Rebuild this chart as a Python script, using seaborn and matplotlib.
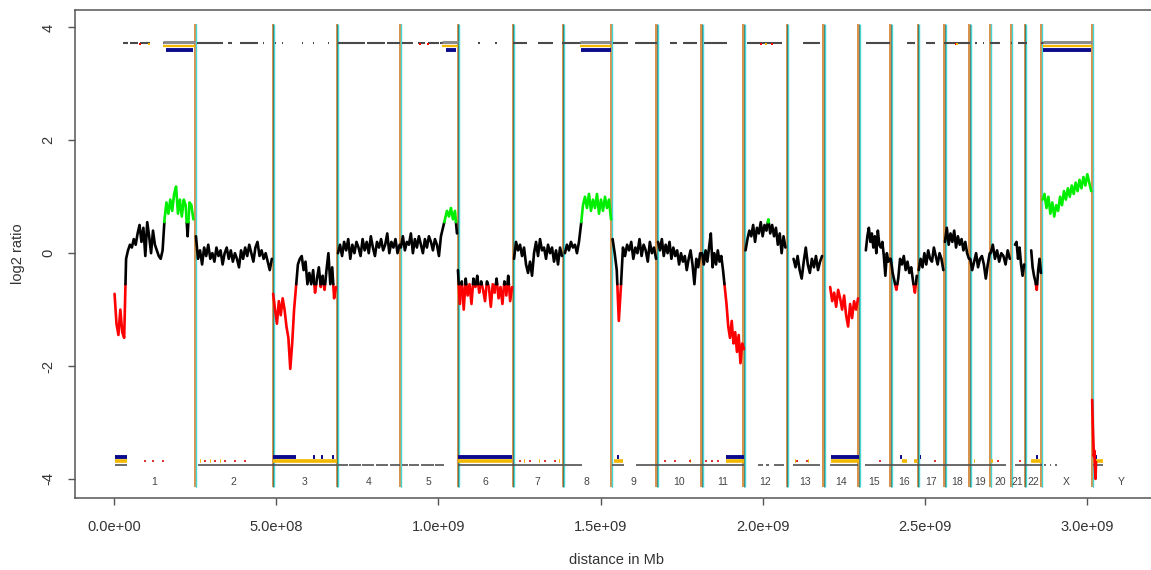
import numpy as np
import pandas as pd
import matplotlib
matplotlib.use("Agg")
import matplotlib.pyplot as plt
import seaborn as sns

sns.set_style("white")
plt.rcParams["font.family"] = ["Liberation Sans", "DejaVu Sans"]
plt.rcParams["axes.unicode_minus"] = False

# chromosome names and boundaries (Mb), last value = end used for the Y label
chrom_names = [str(i) for i in range(1, 23)] + ["X", "Y"]
chrom_bounds = [0, 249, 488.6, 686, 881, 1059, 1229, 1383, 1532, 1671, 1810, 1940,
                2074, 2187, 2295, 2393, 2478, 2560, 2637, 2701, 2765, 2808, 2858, 3015, 3195]

# span of the probes in each chromosome (Mb)
data_start = [1, 252, 490, 690, 884, 1060, 1233, 1390, 1537, 1677, 1813, 1947,
              2095, 2208, 2318, 2395, 2481, 2562, 2640, 2703, 2778, 2828, 2863, 3016]
data_end = [244, 486, 684, 880, 1057, 1227, 1381, 1532, 1671, 1807, 1942, 2070,
            2183, 2294, 2392, 2475, 2557, 2636, 2700, 2762, 2806, 2858, 3013, 3028]

# log2 ratios read along each chromosome
log2_ratio = [
    [-0.72, -1.25, -1.45, -1.0, -1.4, -1.5, -0.1, 0.05, 0.15, 0.1, 0.25, 0.15, 0.35, 0.5,
     0.2, 0.45, -0.05, 0.55, 0.3, 0.0, 0.4, 0.15, 0.05, -0.05, -0.1, 0.05, 0.6, 0.9, 0.7,
     0.95, 0.75, 1.05, 1.18, 0.7, 0.95, 0.65, 0.95, 0.85, 0.3, 0.9, 0.85, 0.6],
    [0.3, -0.1, 0.05, -0.2, 0.1, -0.05, 0.15, -0.1, 0.0, -0.15, 0.1, -0.05, 0.05, -0.2,
     0.0, 0.1, -0.1, 0.05, -0.15, 0.0, -0.1, -0.25, 0.05, -0.1, 0.1, -0.05, 0.15, 0.0,
     -0.15, 0.1, 0.2, -0.05, 0.05, -0.1, 0.0, -0.15, -0.3, -0.1],
    [-0.72, -1.0, -1.25, -0.85, -1.1, -0.8, -1.0, -1.3, -1.5, -2.05, -1.6, -1.0, -0.6,
     -0.2, -0.1, -0.05, -0.3, -0.15, -0.55, -0.35, -0.55, -0.3, -0.7, -0.45, -0.25, -0.6,
     -0.4, -0.65, -0.3, 0.0, -0.55, -0.25, -0.8, -0.6],
    [0.0, 0.15, -0.05, 0.2, 0.05, 0.25, -0.1, 0.15, 0.0, 0.2, 0.1, -0.05, 0.25, 0.05, 0.2,
     0.0, 0.3, 0.1, -0.05, 0.2, 0.1, 0.25, 0.05, 0.15, 0.35, 0.0, 0.2, 0.1, 0.25, 0.0, 0.15],
    [0.1, 0.3, 0.05, 0.2, 0.15, 0.35, 0.0, 0.25, 0.1, 0.3, 0.15, 0.0, 0.25, 0.1, 0.3, 0.2,
     0.05, 0.25, 0.15, -0.05, 0.3, 0.45, 0.6, 0.75, 0.65, 0.8, 0.6, 0.75, 0.35],
    [-0.3, -0.9, -0.5, -1.0, -0.45, -0.75, -0.55, -0.9, -0.45, -0.6, -0.4, -0.7, -0.5,
     -0.65, -0.85, -0.5, -0.6, -0.95, -0.55, -0.7, -0.45, -0.8, -0.6, -0.9, -0.5, -0.75,
     -0.4, -0.85, -0.6],
    [-0.1, 0.2, 0.05, 0.15, -0.05, 0.1, -0.2, -0.35, -0.15, -0.4, 0.0, 0.2, -0.05, 0.25,
     0.05, 0.1, -0.1, 0.15, 0.0, 0.1, -0.15, 0.05, -0.2, 0.1, -0.05],
    [0.0, 0.15, 0.05, 0.2, 0.1, 0.15, 0.0, 0.2, 0.5, 0.85, 1.0, 0.8, 1.05, 0.75, 0.95, 0.8,
     1.05, 0.7, 0.95, 0.75, 1.0, 0.8, 0.95, 0.6],
    [0.25, 0.0, -0.3, -1.2, -0.6, 0.1, -0.05, 0.15, 0.05, 0.2, -0.1, 0.1, 0.0, 0.25, -0.05,
     0.15, 0.05, -0.15, 0.2, 0.0, 0.1, -0.1],
    [0.2, 0.05, 0.25, -0.05, 0.15, 0.0, 0.2, -0.1, 0.1, -0.05, 0.05, -0.2, 0.0, -0.15,
     -0.05, -0.3, -0.1, 0.05, -0.2, -0.55, -0.1, -0.25, 0.0],
    [0.0, -0.2, 0.05, -0.15, 0.1, 0.35, -0.25, 0.0, -0.2, 0.05, -0.15, -0.05, -0.3, -0.6,
     -0.9, -1.3, -1.5, -1.2, -1.6, -1.4, -1.75, -1.45, -1.95, -1.6, -1.7],
    [0.05, 0.25, 0.4, 0.3, 0.5, 0.2, 0.45, 0.35, 0.55, 0.3, 0.5, 0.4, 0.6, 0.35, 0.5, 0.3,
     0.45, 0.15, 0.35, 0.0, 0.3, 0.1],
    [-0.1, -0.25, -0.05, -0.3, -0.45, -0.15, 0.1, -0.2, -0.35, -0.1, -0.25, -0.05, -0.3,
     -0.15, -0.05],
    [-0.6, -0.85, -0.7, -0.95, -0.65, -0.8, -1.0, -0.75, -1.1, -1.3, -0.9, -1.15, -0.85,
     -1.0, -0.8],
    [0.05, 0.3, 0.45, 0.2, 0.35, 0.1, 0.3, 0.0, 0.4, 0.15, 0.1, 0.2, -0.05, -0.4, 0.0,
     -0.15, -0.1],
    [-0.1, -0.35, -0.5, -0.65, -0.45, -0.1, -0.2, -0.05, -0.3, -0.15, -0.35, -0.25, -0.5,
     -0.7, -0.4],
    [-0.3, -0.1, -0.25, 0.0, -0.2, 0.05, -0.1, -0.15, 0.1, -0.05, -0.2, 0.0, -0.1, -0.3],
    [0.2, 0.45, 0.15, 0.35, 0.2, 0.4, 0.1, 0.3, 0.15, 0.25, 0.05, 0.2, 0.0, -0.1],
    [-0.1, -0.3, -0.15, 0.0, -0.25, -0.1, -0.05, -0.2, -0.45, -0.2, 0.0],
    [0.0, 0.15, -0.1, 0.05, -0.15, 0.0, -0.05, -0.2, 0.05, -0.1],
    [0.15, 0.2, -0.1, 0.1, -0.2, -0.4, -0.2],
    [0.05, -0.25, -0.4, -0.5, -0.65, -0.3, -0.1, -0.35],
    [0.95, 1.05, 0.8, 1.0, 0.7, 0.9, 0.65, 0.85, 0.75, 1.0, 0.85, 1.1, 0.95, 1.15, 1.0,
     1.2, 1.05, 1.25, 1.1, 1.3, 1.15, 1.35, 1.2, 1.4, 1.25, 1.1],
    [-2.6, -3.0, -3.3, -3.6, -3.5, -3.8, -4.0, -3.7],
]

# probe/segment tracks (Mb start, end)
top_probe_start = [27, 48, 79, 150, 255, 350, 388, 458, 495, 516, 578, 612, 658, 690, 779, 841,
                   886, 937, 968, 1006, 1122, 1174, 1230, 1307, 1380, 1436, 1538, 1607, 1714,
                   1754, 1819, 1951, 2124, 2319, 2444, 2503, 2560, 2655, 2678, 2701, 2765, 2788,
                   2858]
top_probe_end = [42, 73, 110, 249, 335, 363, 443, 462, 499, 520, 582, 616, 662, 773, 835, 881,
                 921, 958, 1003, 1059, 1128, 1180, 1273, 1353, 1436, 1532, 1585, 1674, 1736,
                 1798, 1890, 2060, 2176, 2393, 2470, 2532, 2640, 2660, 2683, 2732, 2770, 2815,
                 3015]
top_gain_yellow = [(150, 249), (1010, 1059), (1436, 1532), (2863, 3015)]
top_gain_navy = [(159, 244), (1023, 1054), (1440, 1532), (2865, 3013)]
top_red_marks = [79, 943, 968, 1995, 2030, 2595]
top_yellow_marks = [107, 2010, 2600]

bottom_probe = [(2, 39), (258, 686), (690, 720), (724, 760), (765, 800), (806, 845), (850, 881),
                (886, 905), (910, 940), (945, 985), (990, 1017), (1059, 1384), (1387, 1443),
                (1535, 1572), (1609, 1942), (1985, 2000), (2010, 2020), (2035, 2066),
                (2093, 2177), (2208, 2295), (2316, 2750), (2778, 2860), (2868, 2875),
                (2885, 2890), (2900, 2908), (3019, 3050)]
bottom_loss_yellow = [(2, 39), (490, 686), (1059, 1227), (1540, 1570), (1887, 1942),
                      (2209, 2296), (2428, 2445), (2465, 2475), (2828, 2858), (3019, 3050),
                      (265, 268), (295, 298), (327, 330), (1265, 1268), (1310, 1313),
                      (1372, 1375), (1776, 1779), (2100, 2104), (2140, 2144), (2650, 2654),
                      (2705, 2709)]
bottom_loss_navy = [(2, 39), (491, 562), (614, 620), (638, 644), (672, 678), (1059, 1227),
                    (1552, 1558), (1887, 1942), (2209, 2296), (2423, 2429), (2485, 2489),
                    (2842, 2849), (3022, 3030)]
bottom_red_marks = [95, 119, 150, 280, 311, 342, 373, 404, 1252, 1283, 1329, 1360, 1699, 1730,
                    1776, 1826, 1844, 1863, 2106, 2137, 2362, 2532, 2726, 2793]

THR = 0.55
MB = 1e6


def split_runs(x, v, thr):
    px, pv = [x[0]], [v[0]]
    for i in range(1, len(x)):
        a, b = v[i - 1], v[i]
        cuts = [(t - a) / (b - a) for t in (-thr, thr) if (a - t) * (b - t) < 0]
        for f in sorted(cuts):
            px.append(x[i - 1] + f * (x[i] - x[i - 1]))
            pv.append(a + f * (b - a))
        px.append(x[i])
        pv.append(b)
    runs = []
    for j in range(len(px) - 1):
        m = (pv[j] + pv[j + 1]) / 2
        s = "loss" if m < -thr else ("gain" if m > thr else "normal")
        if runs and runs[-1][0] == s:
            runs[-1][1].append((px[j + 1], pv[j + 1]))
        else:
            runs.append([s, [(px[j], pv[j]), (px[j + 1], pv[j + 1])]])
    return runs


rows = []
run_id = 0
for c, vals in enumerate(log2_ratio):
    xs = np.linspace(data_start[c], data_end[c], len(vals)) * MB
    for state, pts in split_runs(xs, vals, THR):
        for (xx, yy) in pts:
            rows.append({"pos": xx, "log2": yy, "state": state, "run": run_id})
        run_id += 1
trace = pd.DataFrame(rows)

fig = plt.figure(figsize=(11.51, 5.70), dpi=100)
ax = fig.add_axes([75 / 1151, 72.5 / 570, 1083 / 1151, 487.5 / 570])

# chromosome boundary lines
b = np.array(chrom_bounds[1:-1]) * MB
ax.vlines(b, -4.14, 4.07, color="#D4883C", lw=1.3, zorder=1)
ax.vlines(b + 2.2 * MB, -4.14, 4.07, color="#3d5c4a", lw=0.6, zorder=1)
ax.vlines(b + 4.5 * MB, -4.14, 4.07, color="#45D6D6", lw=1.0, zorder=1)

# top track (gains)
ax.hlines([3.73] * len(top_probe_start), np.array(top_probe_start) * MB,
          np.array(top_probe_end) * MB, color="#4a4a4a", lw=1.5, zorder=2)
for s, e in top_gain_yellow:
    ax.hlines(3.74, s * MB, e * MB, color="#8c8c8c", lw=2.2, zorder=2)
    ax.hlines(3.665, s * MB, e * MB, color="#F2B800", lw=1.6, zorder=2)
for s, e in top_gain_navy:
    ax.hlines(3.605, s * MB, e * MB, color="#0A0A8C", lw=2.8, zorder=2)
ax.scatter(np.array(top_red_marks) * MB, [3.7] * len(top_red_marks), s=3, color="red",
           marker="s", lw=0, zorder=2)
ax.scatter(np.array(top_yellow_marks) * MB, [3.7] * len(top_yellow_marks), s=3,
           color="#F2B800", marker="s", lw=0, zorder=2)

# bottom track (losses)
for s, e in bottom_probe:
    ax.hlines(-3.76, s * MB, e * MB, color="#505050", lw=1.2, zorder=2)
for s, e in bottom_loss_yellow:
    ax.hlines(-3.685, s * MB, e * MB, color="#F2B800", lw=2.6, zorder=2)
for s, e in bottom_loss_navy:
    ax.hlines(-3.615, s * MB, e * MB, color="#0A0A8C", lw=2.8, zorder=2)
ax.scatter(np.array(bottom_red_marks) * MB, [-3.69] * len(bottom_red_marks), s=3,
           color="#E03030", marker="s", lw=0, zorder=2)

# log2 ratio trace
sns.lineplot(data=trace, x="pos", y="log2", hue="state", units="run", estimator=None,
             sort=False, palette={"normal": "black", "loss": "#FF0000", "gain": "#00EE00"},
             lw=1.9, legend=False, ax=ax, zorder=3)

# chromosome labels
mids = (np.array(chrom_bounds[:-1]) + np.array(chrom_bounds[1:])) / 2
for name, m in zip(chrom_names, mids):
    ax.text(m * MB, -4.05, name, ha="center", va="center", fontsize=7.5, color="#444444")

ax.set_xlim(-121 * MB, 3219 * MB)
ax.set_ylim(-4.33, 4.31)
xt = [0, 5e8, 1e9, 1.5e9, 2e9, 2.5e9, 3e9]
ax.set_xticks(xt)
ax.set_xticklabels([f"{t:.1e}" for t in xt])
ax.set_yticks([-4, -2, 0, 2, 4])
ax.set_yticklabels(["-4", "-2", "0", "2", "4"], rotation=90, va="center")
ax.tick_params(axis="both", direction="out", length=5, width=1, color="#555555",
               labelsize=10.5, labelcolor="#333333", bottom=True, left=True)
ax.tick_params(axis="x", pad=11)
ax.tick_params(axis="y", pad=9)
for sp in ax.spines.values():
    sp.set_color("#555555")
    sp.set_linewidth(1.1)
ax.set_xlabel("distance in Mb", fontsize=10.5, color="#333333", labelpad=14)
ax.set_ylabel("log2 ratio", fontsize=10.5, color="#333333", labelpad=12)

fig.savefig("out.png", dpi=100)
